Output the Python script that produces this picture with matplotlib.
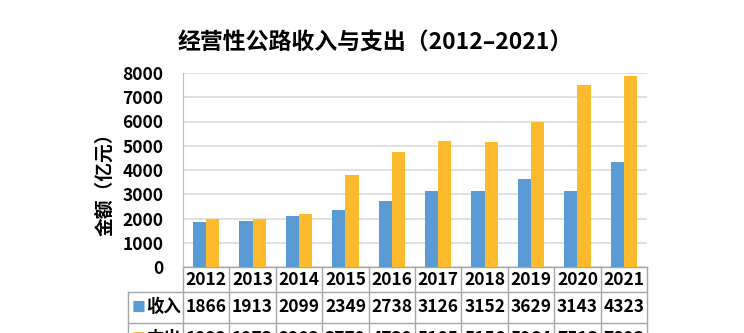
import numpy as np
import matplotlib.pyplot as plt

plt.rcParams['font.family'] = ['Noto Sans CJK SC', 'DejaVu Sans']

# data
years = ['2012', '2013', '2014', '2015', '2016', '2017', '2018', '2019', '2020', '2021']
income = [1866, 1913, 2099, 2349, 2738, 3126, 3152, 3629, 3143, 4323]
spend = [1992, 1973, 2202, 3779, 4739, 5185, 5156, 5964, 7513, 7893]
series_names = ['收入', '支出']
yticks = [0, 1000, 2000, 3000, 4000, 5000, 6000, 7000, 8000]

c_blue = '#5b9bd5'
c_orange = '#fbbb2c'
c_line = '#a6a6a6'

fig = plt.figure(figsize=(7.44, 3.33), dpi=100)
ax = fig.add_axes([183 / 744, 66 / 333, 464 / 744, 194 / 333])

x = np.arange(len(years))
w = 0.285
ax.bar(x - w / 2, income, w, color=c_blue, zorder=3)
ax.bar(x + w / 2, spend, w, color=c_orange, zorder=3)

ax.set_xlim(-0.5, len(years) - 0.5)
ax.set_ylim(0, 8000)
ax.set_yticks(yticks)
ax.set_yticklabels([str(t) for t in yticks], fontsize=12.5, fontweight='bold')
ax.set_xticks([])
ax.tick_params(axis='y', length=0, pad=14)
ax.grid(axis='y', color='#dcdcdc', linewidth=1.2, zorder=0)
for s in ['top', 'right', 'bottom']:
    ax.spines[s].set_visible(False)
ax.spines['left'].set_color('#bfbfbf')

# table under the axes (axes fraction coords)
tr = ax.transAxes
n = len(years)
cw = 1.0 / n
lab_left = -0.1185
row_y = [0.0, -0.129, -0.288, -0.45]
kw = dict(transform=tr, clip_on=False, color=c_line, linewidth=1)

ax.plot([0, 1], [row_y[0], row_y[0]], **kw)
for ry in row_y[1:]:
    ax.plot([lab_left, 1], [ry, ry], **kw)
for i in range(n + 1):
    ax.plot([i * cw, i * cw], [row_y[0], row_y[-1]], **kw)
ax.plot([lab_left, lab_left], [row_y[1], row_y[-1]], **kw)

for i, yr in enumerate(years):
    ax.text((i + 0.5) * cw, (row_y[0] + row_y[1]) / 2, yr, transform=tr,
            ha='center', va='center', fontsize=12.5, fontweight='bold', clip_on=False)

for r, (vals, name, col) in enumerate(zip([income, spend], series_names, [c_blue, c_orange])):
    yc = (row_y[r + 1] + row_y[r + 2]) / 2
    for i, v in enumerate(vals):
        ax.text((i + 0.5) * cw, yc, str(v), transform=tr, ha='center', va='center',
                fontsize=12.5, fontweight='bold', clip_on=False)
    ax.text(lab_left + 0.008, yc, '■', transform=tr, ha='left', va='center',
            fontsize=10, color=col, clip_on=False)
    ax.text(-0.004, yc, name, transform=tr, ha='right', va='center',
            fontsize=12.5, fontweight='bold', clip_on=False)

fig.text(0.141, 0.459, '金额（亿元）', rotation=90, ha='center', va='center',
         fontsize=13.5, fontweight='bold')
fig.text(0.504, 0.871, '经营性公路收入与支出（2012–2021）', ha='center', va='center',
         fontsize=16.5, fontweight='bold')

fig.savefig('out.png', dpi=100)
